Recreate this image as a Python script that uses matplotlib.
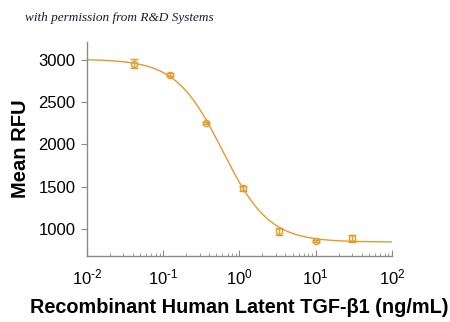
import numpy as np
import matplotlib
matplotlib.use('Agg')
import matplotlib.pyplot as plt

plt.rcParams['font.family'] = ['Liberation Sans', 'DejaVu Sans']
plt.rcParams['mathtext.default'] = 'regular'
plt.rcParams['axes.unicode_minus'] = False

# data (ng/mL, mean RFU, error)
conc = [0.0412, 0.123, 0.37, 1.11, 3.33, 10.0, 30.0]
rfu = [2953, 2822, 2251, 1482, 970, 858, 890]
err = [55, 15, 15, 30, 45, 15, 40]

# 4PL fit parameters
top, bottom, ec50, hill = 3005, 845, 0.60, 1.42

color = '#E39B2B'

fig = plt.figure(figsize=(4.5, 3.22), dpi=100)
ax = fig.add_axes([0.193, 0.205, 0.678, 0.665])

xs = np.logspace(-2, 2, 400)
ys = bottom + (top - bottom) / (1 + (xs / ec50) ** hill)
ax.plot(xs, ys, color=color, lw=1.0)
ax.errorbar(conc, rfu, yerr=err, fmt='o', mfc='none', mec=color, ms=4.5,
            mew=1.0, ecolor=color, elinewidth=1.0, capsize=3, capthick=1.0)

ax.set_xscale('log')
ax.set_xlim(0.01, 100)
ax.set_ylim(680, 3210)
ax.set_yticks([1000, 1500, 2000, 2500, 3000])
ax.set_xticks([0.01, 0.1, 1, 10, 100])
ax.set_xticklabels(['$10^{‐2}$', '$10^{‐1}$', '$10^{0}$', '$10^{1}$', '$10^{2}$'])

for s in ['top', 'right']:
    ax.spines[s].set_visible(False)
for s in ['left', 'bottom']:
    ax.spines[s].set_color('#8a8a8a')
    ax.spines[s].set_linewidth(1.0)

ax.tick_params(axis='y', direction='out', length=4, color='#8a8a8a', labelsize=12, pad=4)
ax.tick_params(axis='x', which='major', direction='in', length=4, color='#8a8a8a', labelsize=12, pad=8)
ax.tick_params(axis='x', which='minor', direction='in', length=2.5, color='#8a8a8a')

ax.set_ylabel('Mean RFU', fontsize=14.5, fontweight='bold', labelpad=6)
ax.set_xlabel('Recombinant Human Latent TGF-β1 (ng/mL)', fontsize=14.3,
              fontweight='bold', labelpad=8)

fig.text(0.055, 0.935, 'with permission from R&D Systems', fontsize=9.5,
         style='italic', family='Liberation Serif', color='#1a1a3a')

fig.savefig('out.png', dpi=100)
